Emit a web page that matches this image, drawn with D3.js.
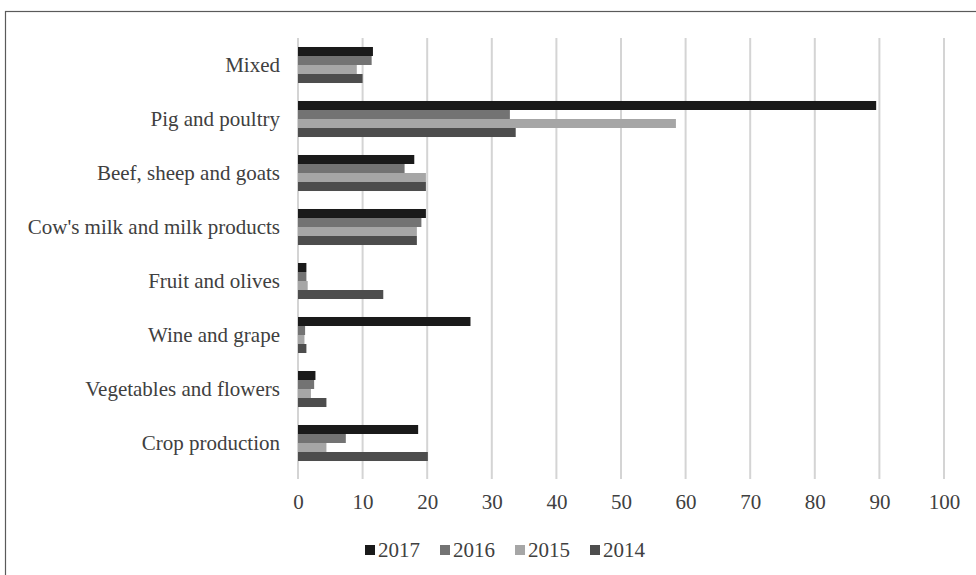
<!DOCTYPE html>
<html><head><meta charset="utf-8">
<script src="https://cdn.jsdelivr.net/npm/d3@7"></script>
<style>body{margin:0;background:#fff}svg{display:block}</style>
</head><body>
<svg id="c" width="976" height="575"></svg>
<script>
const categories = ["Mixed","Pig and poultry","Beef, sheep and goats","Cow's milk and milk products","Fruit and olives","Wine and grape","Vegetables and flowers","Crop production"];
const seriesNames = ["2017","2016","2015","2014"];
const v2017 = [11.6, 89.5, 18.0, 19.8, 1.3, 26.7, 2.7, 18.6];
const v2016 = [11.4, 32.8, 16.5, 19.1, 1.3, 1.1, 2.5, 7.4];
const v2015 = [9.1, 58.5, 19.8, 18.4, 1.5, 1.0, 2.0, 4.4];
const v2014 = [10.0, 33.7, 19.8, 18.4, 13.2, 1.3, 4.4, 20.1];
const xTicks = [0,10,20,30,40,50,60,70,80,90,100];
const colors = ["#1a1a1a","#737373","#a6a6a6","#4d4d4d"];
const seriesVals = [v2017, v2016, v2015, v2014];

const svg = d3.select("#c");
const font = "'Liberation Serif','Times New Roman',serif";
svg.append("rect").attr("x",5.5).attr("y",11.5).attr("width",980).attr("height",600)
  .attr("fill","none").attr("stroke","#5a5a5a").attr("stroke-width",1.2);

const x = d3.scaleLinear().domain([0,100]).range([298,944]);
const y = d3.scaleBand().domain(categories).range([38,470]).paddingInner(0.333).paddingOuter(0.1665);
const ys = d3.scaleBand().domain(seriesNames).range([0,y.bandwidth()]);

svg.append("g").selectAll("line").data(xTicks).join("line")
  .attr("x1",d=>x(d)).attr("x2",d=>x(d)).attr("y1",38).attr("y2",479)
  .attr("stroke","#d4d4d4").attr("stroke-width",2);

const xa = svg.append("g").attr("transform","translate(0,470)")
  .call(d3.axisBottom(x).tickValues(xTicks).tickSize(0).tickPadding(24));
xa.select(".domain").remove();
xa.selectAll("text").attr("font-family",font).attr("font-size",21).attr("fill","#404040");

seriesNames.forEach((s,i)=>{
  svg.append("g").selectAll("rect").data(categories).join("rect")
    .attr("x",x(0)).attr("y",(c)=>y(c)+ys(s))
    .attr("width",(c,j)=>x(seriesVals[i][j])-x(0)).attr("height",ys.bandwidth())
    .attr("fill",colors[i]);
});

const ya = svg.append("g").attr("transform","translate(298,0)")
  .call(d3.axisLeft(y).tickSize(0).tickPadding(18));
ya.select(".domain").remove();
ya.selectAll("text").attr("font-family",font).attr("font-size",21).attr("fill","#404040");

const lg = svg.append("g").attr("transform","translate(365,550)");
seriesNames.forEach((s,i)=>{
  const g = lg.append("g").attr("transform",`translate(${i*75},0)`);
  g.append("rect").attr("x",0).attr("y",-5).attr("width",10).attr("height",10).attr("fill",colors[i]);
  g.append("text").attr("x",13).attr("y",0).attr("dy","0.35em").text(s)
    .attr("font-family",font).attr("font-size",21).attr("fill","#404040");
});
</script>
</body></html>
